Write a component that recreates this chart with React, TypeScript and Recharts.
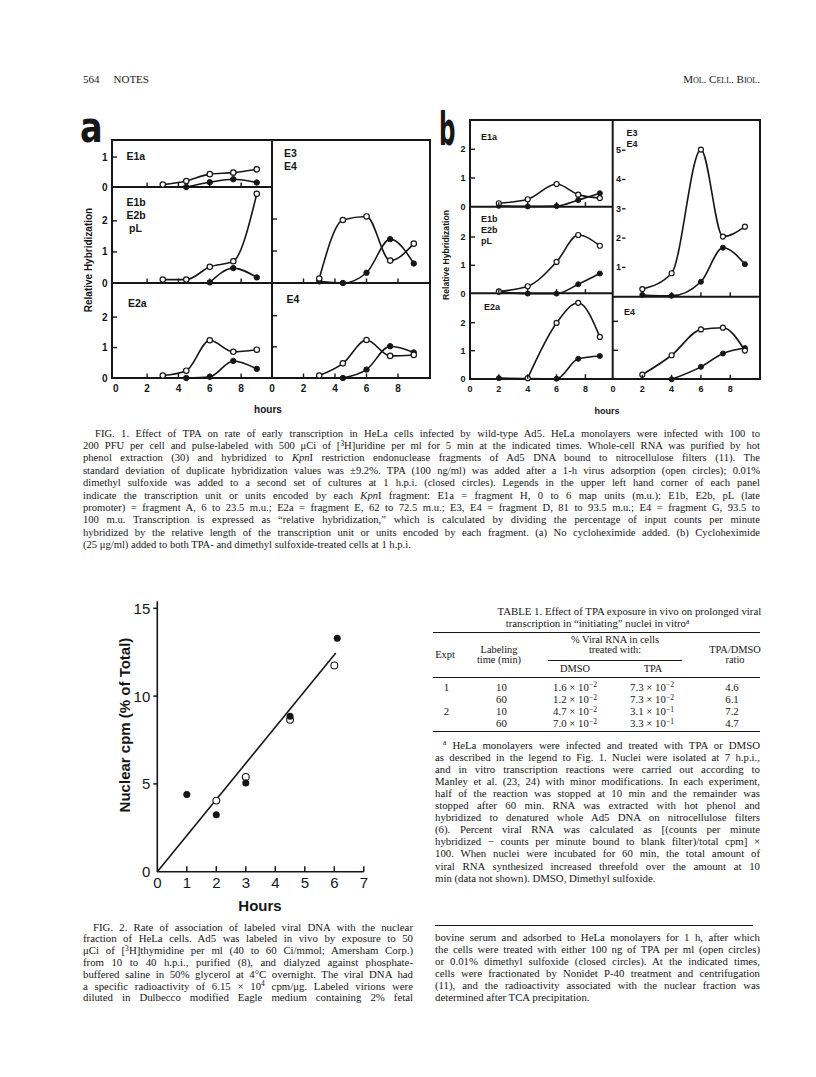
import type { ReactNode } from 'react'
import { ComposedChart, Line, LineChart, Scatter, XAxis, YAxis } from 'recharts'

const SERIF = '"Liberation Serif", "Times New Roman", serif'
const SANS = '"Liberation Sans", Arial, sans-serif'
const INK = '#161616'

// Fig. 1a, no cycloheximide. hours post infection; null = no point drawn
const A_HOURS = [3, 4.5, 6, 7.5, 9]
const A_E1A_TPA = [0.08, 0.2, 0.43, 0.48, 0.59]
const A_E1A_DMSO = [null, 0, 0.16, 0.26, 0.15]
const A_E1B_TPA = [0.11, 0.11, 0.52, 0.7, 2.87]
const A_E1B_DMSO = [null, null, 0.02, 0.48, 0.18]
const A_E2A_TPA = [0.08, 0.24, 1.24, 0.86, 0.93]
const A_E2A_DMSO = [null, 0, 0.04, 0.56, 0.3]
const A_E3E4_TPA = [0.14, 1.97, 2.08, 0.7, 1.23]
const A_E3E4_DMSO = [0.05, 0, 0.32, 1.37, 0.61]
const A_E4_TPA = [0.08, 0.47, 1.22, 0.71, 0.74]
const A_E4_DMSO = [null, 0, 0.27, 1.02, 0.82]

// Fig. 1b, cycloheximide added
const B_HOURS = [2, 4, 6, 7.5, 9]
const B_E1A_TPA = [0.12, 0.26, 0.79, 0.42, 0.3]
const B_E1A_DMSO = [0.03, 0.01, 0.02, 0.23, 0.47]
const B_E1B_TPA = [0.08, 0.26, 1.12, 2.07, 1.69]
const B_E1B_DMSO = [0.06, 0, 0, 0.33, 0.71]
const B_E2A_TPA = [null, 0.02, 1.99, 2.71, 1.49]
const B_E2A_DMSO = [0.02, null, 0, 0.71, 0.81]
const B_E3E4_TPA = [0.26, 0.8, 5.02, 2.05, 2.39]
const B_E3E4_DMSO = [0.06, 0.03, 0.51, 1.67, 1.11]
const B_E4_TPA = [0.16, 0.83, 1.72, 1.78, 0.99]
const B_E4_DMSO = [null, 0, 0.43, 0.89, 1.08]

const HOUR_TICKS = [0, 2, 4, 6, 8]

// Fig. 2, nuclear cpm (% of total) against hours
const F2_TPA_HOURS = [2, 3, 4.5, 6]
const F2_TPA = [4.05, 5.4, 8.65, 11.75]
const F2_DMSO_HOURS = [1, 2, 3, 4.5, 6.1]
const F2_DMSO = [4.4, 3.25, 5.05, 8.85, 13.3]
const F2_FIT_HOURS = [0, 6.05]
const F2_FIT = [0, 12.45]
const F2_X_TICKS = [0, 1, 2, 3, 4, 5, 6, 7]
const F2_Y_TICKS = [0, 5, 10, 15]

// Table 1
const TBL_EXPT = ['1', '', '2', '']
const TBL_TIME = ['10', '60', '10', '60']
const TBL_DMSO = ['1.6', '1.2', '4.7', '7.0']
const TBL_DMSO_EXP = ['−2', '−2', '−2', '−2']
const TBL_TPA = ['7.3', '7.3', '3.1', '3.3']
const TBL_TPA_EXP = ['−2', '−2', '−1', '−1']
const TBL_RATIO = ['4.6', '6.1', '7.2', '4.7']

type Num = number | null
type Pt = { x: number; y: number }

function toPoints(xs: number[], ys: Num[]): Pt[] {
  const out: Pt[] = []
  xs.forEach((x, i) => {
    const y = ys[i]
    if (y != null) out.push({ x, y })
  })
  return out
}

type CellProps = {
  left: number
  top: number
  width: number
  height: number
  xDomain: [number, number]
  yMax: number
  hours: number[]
  tpa: Num[]
  dmso: Num[]
  yTicks: number[]
  yMode: 'out' | 'in' | 'none'
  xLabels: boolean
  fontSize: number
  r: number
}

const PAD = 30

function Cell(c: CellProps) {
  const xTick = (p: any) => {
    const v = p.payload.value
    return (
      <g>
        {v > 0 ? (
          <line x1={p.x} x2={p.x} y1={p.y} y2={p.y - 4.5} stroke={INK} strokeWidth={1.4} />
        ) : null}
        {c.xLabels ? (
          <text x={p.x} y={p.y + 10} textAnchor="middle" dominantBaseline="central"
            fontSize={c.fontSize} fontWeight="bold" fontFamily={SANS} fill={INK}>
            {v}
          </text>
        ) : null}
      </g>
    )
  }
  const yTick = (p: any) => {
    const v = p.payload.value
    if (c.yMode === 'in') {
      return (
        <g>
          <text x={p.x + 3} y={p.y} textAnchor="start" dominantBaseline="central"
            fontSize={c.fontSize} fontWeight="bold" fontFamily={SANS} fill={INK}>
            {v}
          </text>
          <line x1={p.x + 9} x2={p.x + 12.5} y1={p.y} y2={p.y} stroke={INK} strokeWidth={1.3} />
        </g>
      )
    }
    return (
      <g>
        {v > 0 ? (
          <line x1={p.x} x2={p.x + 5} y1={p.y} y2={p.y} stroke={INK} strokeWidth={1.4} />
        ) : null}
        {c.yMode === 'out' ? (
          <text x={p.x - 4.5} y={p.y} textAnchor="end" dominantBaseline="central"
            fontSize={c.fontSize} fontWeight="bold" fontFamily={SANS} fill={INK}>
            {v}
          </text>
        ) : null}
      </g>
    )
  }
  return (
    <div style={{ position: 'absolute', left: c.left - PAD, top: c.top - PAD }}>
      <LineChart
        width={c.width + 2 * PAD}
        height={c.height + 2 * PAD}
        margin={{ top: PAD, right: PAD, bottom: PAD - 1, left: PAD - 1 }}
      >
        <XAxis type="number" dataKey="x" domain={c.xDomain} ticks={HOUR_TICKS} interval={0}
          height={1} axisLine={false} tickLine={false} tickSize={0} tickMargin={0} tick={xTick} />
        <YAxis type="number" dataKey="y" domain={[0, c.yMax]} ticks={c.yTicks} interval={0}
          width={1} axisLine={false} tickLine={false} tickSize={0} tickMargin={0} tick={yTick} />
        <Line data={toPoints(c.hours, c.dmso)} dataKey="y" type="monotone" stroke={INK}
          strokeWidth={1.6} connectNulls isAnimationActive={false} activeDot={false}
          dot={{ r: c.r, fill: INK, stroke: INK, strokeWidth: 1 }} />
        <Line data={toPoints(c.hours, c.tpa)} dataKey="y" type="monotone" stroke={INK}
          strokeWidth={1.6} connectNulls isAnimationActive={false} activeDot={false}
          dot={{ r: c.r, fill: '#fff', stroke: INK, strokeWidth: 1.2 }} />
      </LineChart>
    </div>
  )
}

function Fig2() {
  const xTick = (p: any) => {
    const v = p.payload.value
    return (
      <g>
        {v > 0 ? <line x1={p.x} x2={p.x} y1={p.y} y2={p.y - 5.5} stroke={INK} strokeWidth={1.5} /> : null}
        <text x={p.x} y={p.y + 11} textAnchor="middle" dominantBaseline="central"
          fontSize={15} fontFamily={SANS} fill={INK}>
          {v}
        </text>
      </g>
    )
  }
  const yTick = (p: any) => {
    const v = p.payload.value
    return (
      <g>
        {v > 0 ? <line x1={p.x - 4} x2={p.x} y1={p.y} y2={p.y} stroke={INK} strokeWidth={1.5} /> : null}
        <text x={p.x - 7} y={p.y} textAnchor="end" dominantBaseline="central"
          fontSize={15} fontFamily={SANS} fill={INK}>
          {v}
        </text>
      </g>
    )
  }
  const openDot = (p: any) => (
    <circle cx={p.cx} cy={p.cy} r={3.4} fill="#fff" stroke={INK} strokeWidth={1.1} />
  )
  const closedDot = (p: any) => <circle cx={p.cx} cy={p.cy} r={3.5} fill={INK} />
  return (
    <div style={{ position: 'absolute', left: 100, top: 580 }}>
      <ComposedChart width={280} height={310} margin={{ top: 21.3, right: 16.2, bottom: 17.3, left: 56.3 }}>
        <XAxis type="number" dataKey="x" domain={[0, 7]} ticks={F2_X_TICKS} interval={0} height={1}
          axisLine={{ stroke: INK, strokeWidth: 1.6 }} tickLine={false} tickSize={0} tickMargin={0} tick={xTick} />
        <YAxis type="number" dataKey="y" domain={[0, 15.4]} ticks={F2_Y_TICKS} interval={0} width={1}
          axisLine={{ stroke: INK, strokeWidth: 1.6 }} tickLine={false} tickSize={0} tickMargin={0} tick={yTick} />
        <Line data={toPoints(F2_FIT_HOURS, F2_FIT)} dataKey="y" type="linear" stroke={INK}
          strokeWidth={1.6} dot={false} activeDot={false} isAnimationActive={false} />
        <Scatter data={toPoints(F2_TPA_HOURS, F2_TPA)} shape={openDot} isAnimationActive={false} />
        <Scatter data={toPoints(F2_DMSO_HOURS, F2_DMSO)} shape={closedDot} isAnimationActive={false} />
      </ComposedChart>
    </div>
  )
}

function TextLine({ left, y, width, children, justify = true, size = 10.8, indent = 0, lh = 13 }: {
  left: number; y: number; width: number; children: ReactNode; justify?: boolean; size?: number; indent?: number; lh?: number
}) {
  return (
    <div style={{
      position: 'absolute', left, top: y - lh / 2, width, height: lh, lineHeight: `${lh}px`,
      fontSize: size, fontFamily: SERIF, color: INK, whiteSpace: 'nowrap',
      textAlign: 'justify', textAlignLast: justify ? 'justify' : 'left', textIndent: indent,
    }}>
      {children}
    </div>
  )
}

function Centered({ x, y, children, size = 10.8, bold = false }: { x: number; y: number; children: ReactNode; size?: number; bold?: boolean }) {
  return (
    <div style={{
      position: 'absolute', left: x - 100, width: 200, top: y - 7, lineHeight: '14px', textAlign: 'center',
      fontSize: size, fontFamily: SERIF, fontWeight: bold ? 'bold' : 'normal', color: INK, whiteSpace: 'nowrap',
    }}>
      {children}
    </div>
  )
}

function Rule({ x1, x2, y, w = 1.2 }: { x1: number; x2: number; y: number; w?: number }) {
  return <div style={{ position: 'absolute', left: x1, width: x2 - x1, top: y - w / 2, height: w, background: INK }} />
}

const sup = (s: string) => <span style={{ fontSize: '0.7em', position: 'relative', top: '-0.45em' }}>{s}</span>

const FIG1_CAPTION: ReactNode[] = [
  <>FIG. 1. Effect of TPA on rate of early transcription in HeLa cells infected by wild-type Ad5. HeLa monolayers were infected with 100 to</>,
  <>200 PFU per cell and pulse-labeled with 500 μCi of [{sup('3')}H]uridine per ml for 5 min at the indicated times. Whole-cell RNA was purified by hot</>,
  <>phenol extraction (30) and hybridized to <i>Kpn</i>I restriction endonuclease fragments of Ad5 DNA bound to nitrocellulose filters (11). The</>,
  <>standard deviation of duplicate hybridization values was ±9.2%. TPA (100 ng/ml) was added after a 1-h virus adsorption (open circles); 0.01%</>,
  <>dimethyl sulfoxide was added to a second set of cultures at 1 h.p.i. (closed circles). Legends in the upper left hand corner of each panel</>,
  <>indicate the transcription unit or units encoded by each <i>Kpn</i>I fragment: E1a = fragment H, 0 to 6 map units (m.u.); E1b, E2b, pL (late</>,
  <>promoter) = fragment A, 6 to 23.5 m.u.; E2a = fragment E, 62 to 72.5 m.u.; E3, E4 = fragment D, 81 to 93.5 m.u.; E4 = fragment G, 93.5 to</>,
  <>100 m.u. Transcription is expressed as “relative hybridization,” which is calculated by dividing the percentage of input counts per minute</>,
  <>hybridized by the relative length of the transcription unit or units encoded by each fragment. (a) No cycloheximide added. (b) Cycloheximide</>,
  <>(25 μg/ml) added to both TPA- and dimethyl sulfoxide-treated cells at 1 h.p.i.</>,
]

const FIG2_CAPTION: ReactNode[] = [
  <>FIG. 2. Rate of association of labeled viral DNA with the nuclear</>,
  <>fraction of HeLa cells. Ad5 was labeled in vivo by exposure to 50</>,
  <>μCi of [{sup('3')}H]thymidine per ml (40 to 60 Ci/mmol; Amersham Corp.)</>,
  <>from 10 to 40 h.p.i., purified (8), and dialyzed against phosphate-</>,
  <>buffered saline in 50% glycerol at 4°C overnight. The viral DNA had</>,
  <>a specific radioactivity of 6.15 × 10{sup('4')} cpm/μg. Labeled virions were</>,
  <>diluted in Dulbecco modified Eagle medium containing 2% fetal</>,
]

const TABLE_NOTE: ReactNode[] = [
  <>{sup('a')} HeLa monolayers were infected and treated with TPA or DMSO</>,
  <>as described in the legend to Fig. 1. Nuclei were isolated at 7 h.p.i.,</>,
  <>and in vitro transcription reactions were carried out according to</>,
  <>Manley et al. (23, 24) with minor modifications. In each experiment,</>,
  <>half of the reaction was stopped at 10 min and the remainder was</>,
  <>stopped after 60 min. RNA was extracted with hot phenol and</>,
  <>hybridized to denatured whole Ad5 DNA on nitrocellulose filters</>,
  <>(6). Percent viral RNA was calculated as [(counts per minute</>,
  <>hybridized − counts per minute bound to blank filter)/total cpm] ×</>,
  <>100. When nuclei were incubated for 60 min, the total amount of</>,
  <>viral RNA synthesized increased threefold over the amount at 10</>,
  <>min (data not shown). DMSO, Dimethyl sulfoxide.</>,
]

const RIGHT_TAIL: ReactNode[] = [
  <>bovine serum and adsorbed to HeLa monolayers for 1 h, after which</>,
  <>the cells were treated with either 100 ng of TPA per ml (open circles)</>,
  <>or 0.01% dimethyl sulfoxide (closed circles). At the indicated times,</>,
  <>cells were fractionated by Nonidet P-40 treatment and centrifugation</>,
  <>(11), and the radioactivity associated with the nuclear fraction was</>,
  <>determined after TCA precipitation.</>,
]

function FrameAndLabels() {
  const lab = (x: number, y: number, s: string, fs: number) => (
    <text key={`${s}-${x}-${y}`} x={x} y={y} fontSize={fs} fontWeight="bold" fontFamily={SANS}
      dominantBaseline="central" fill={INK}>{s}</text>
  )
  const ln = (x1: number, y1: number, x2: number, y2: number, w = 2) => (
    <line key={`${x1}-${y1}-${x2}-${y2}`} x1={x1} y1={y1} x2={x2} y2={y2} stroke={INK} strokeWidth={w} />
  )
  return (
    <svg width={816} height={1077} style={{ position: 'absolute', left: 0, top: 0 }}>
      {/* panel a frame */}
      <rect x={112} y={140} width={318} height={238} fill="none" stroke={INK} strokeWidth={2} />
      {ln(272, 140, 272, 378)}
      {ln(112, 187, 272, 187)}
      {ln(112, 283, 430, 283)}
      {/* panel b frame */}
      <rect x={470} y={120} width={290} height={259} fill="none" stroke={INK} strokeWidth={2} />
      {ln(612.7, 120, 612.7, 379)}
      {ln(470, 206.7, 612.7, 206.7)}
      {ln(470, 293.3, 612.7, 293.3)}
      {ln(612.7, 296.7, 760, 296.7)}

      <text x={80} y={142} fontSize={42} fontWeight="bold" fontFamily='"DejaVu Sans", sans-serif'
        transform="translate(80 0) scale(0.8 1) translate(-80 0)" fill={INK}>a</text>
      <text x={439} y={145} fontSize={46} fontWeight="bold" fontFamily='"DejaVu Sans", sans-serif'
        transform="translate(439 0) scale(0.5 1) translate(-439 0)" fill={INK}>b</text>

      {lab(126.5, 156, 'E1a', 10.5)}
      {lab(126.5, 202, 'E1b', 10.5)}
      {lab(126.5, 215, 'E2b', 10.5)}
      {lab(129, 227.5, 'pL', 10.5)}
      {lab(128, 303, 'E2a', 10.5)}
      {lab(284, 153, 'E3', 10.5)}
      {lab(284, 166, 'E4', 10.5)}
      {lab(286.5, 299, 'E4', 10.5)}

      {lab(481, 137, 'E1a', 9)}
      {lab(481, 219, 'E1b', 9)}
      {lab(481, 230, 'E2b', 9)}
      {lab(481, 241, 'pL', 9)}
      {lab(484, 307, 'E2a', 9)}
      {lab(626.5, 133, 'E3', 9)}
      {lab(626.5, 144, 'E4', 9)}
      {lab(624, 312, 'E4', 9)}

      <text x={88} y={260} fontSize={10} fontWeight="bold" fontFamily={SANS} textAnchor="middle"
        dominantBaseline="central" transform="rotate(-90 88 260)" fill={INK}>Relative Hybridization</text>
      <text x={446} y={255} fontSize={8.6} fontWeight="bold" fontFamily={SANS} textAnchor="middle"
        dominantBaseline="central" transform="rotate(-90 446 255)" fill={INK}>Relative Hybridization</text>
      <text x={268} y={409} fontSize={10} fontWeight="bold" fontFamily={SANS} textAnchor="middle"
        dominantBaseline="central" fill={INK}>hours</text>
      <text x={607} y={411} fontSize={9} fontWeight="bold" fontFamily={SANS} textAnchor="middle"
        dominantBaseline="central" fill={INK}>hours</text>

      <text x={260} y={905} fontSize={15} fontWeight="bold" fontFamily={SANS} textAnchor="middle"
        dominantBaseline="central" fill={INK}>Hours</text>
      <text x={124} y={725} fontSize={15} fontWeight="bold" fontFamily={SANS} textAnchor="middle"
        dominantBaseline="central" transform="rotate(-90 124 725)" fill={INK}>Nuclear cpm (% of Total)</text>
    </svg>
  )
}

export default function App() {
  const aLeft = { left: 112, width: 160, xDomain: [-0.24, 9.97] as [number, number] }
  const aRight = { left: 272, width: 158, xDomain: [0, 10.03] as [number, number] }
  const bLeft = { left: 470, width: 142.7, xDomain: [0, 9.89] as [number, number] }
  const bRight = { left: 612.7, width: 147.3, xDomain: [0, 10.05] as [number, number] }

  return (
    <div style={{ position: 'absolute', left: 0, top: 0, width: 816, height: 1077, background: '#fff', overflow: 'hidden' }}>
      <FrameAndLabels />

      <Cell {...aLeft} top={140} height={47} yMax={1.57} hours={A_HOURS} tpa={A_E1A_TPA} dmso={A_E1A_DMSO}
        yTicks={[0, 1]} yMode="out" xLabels={false} fontSize={10} r={2.7} />
      <Cell {...aLeft} top={187} height={96} yMax={3.09} hours={A_HOURS} tpa={A_E1B_TPA} dmso={A_E1B_DMSO}
        yTicks={[0, 1, 2]} yMode="out" xLabels={false} fontSize={10} r={2.7} />
      <Cell {...aLeft} top={283} height={95} yMax={3.12} hours={A_HOURS} tpa={A_E2A_TPA} dmso={A_E2A_DMSO}
        yTicks={[0, 1, 2]} yMode="out" xLabels fontSize={10} r={2.7} />
      <Cell {...aRight} top={140} height={143} yMax={4.47} hours={A_HOURS} tpa={A_E3E4_TPA} dmso={A_E3E4_DMSO}
        yTicks={[1, 2]} yMode="none" xLabels={false} fontSize={10} r={2.7} />
      <Cell {...aRight} top={283} height={95} yMax={3.05} hours={A_HOURS} tpa={A_E4_TPA} dmso={A_E4_DMSO}
        yTicks={[1, 2]} yMode="none" xLabels fontSize={10} r={2.7} />

      <Cell {...bLeft} top={120} height={86.7} yMax={3.02} hours={B_HOURS} tpa={B_E1A_TPA} dmso={B_E1A_DMSO}
        yTicks={[0, 1, 2]} yMode="out" xLabels={false} fontSize={9} r={2.5} />
      <Cell {...bLeft} top={206.7} height={86.6} yMax={3.06} hours={B_HOURS} tpa={B_E1B_TPA} dmso={B_E1B_DMSO}
        yTicks={[0, 1, 2]} yMode="out" xLabels={false} fontSize={9} r={2.5} />
      <Cell {...bLeft} top={293.3} height={85.7} yMax={3.06} hours={B_HOURS} tpa={B_E2A_TPA} dmso={B_E2A_DMSO}
        yTicks={[0, 1, 2]} yMode="out" xLabels fontSize={9} r={2.5} />
      <Cell {...bRight} top={120} height={176.7} yMax={6.03} hours={B_HOURS} tpa={B_E3E4_TPA} dmso={B_E3E4_DMSO}
        yTicks={[1, 2, 3, 4, 5]} yMode="in" xLabels={false} fontSize={9} r={2.5} />
      <Cell {...bRight} top={296.7} height={82.3} yMax={2.84} hours={B_HOURS} tpa={B_E4_TPA} dmso={B_E4_DMSO}
        yTicks={[1, 2]} yMode="none" xLabels fontSize={9} r={2.5} />

      <Fig2 />

      {/* running head */}
      <div style={{ position: 'absolute', left: 83, top: 73, fontFamily: SERIF, fontSize: 11, color: INK, whiteSpace: 'nowrap' }}>
        564<span style={{ marginLeft: 14 }}>NOTES</span>
      </div>
      <div style={{ position: 'absolute', left: 560, width: 200, top: 73, textAlign: 'right', fontFamily: SERIF, fontSize: 11, color: INK, fontVariant: 'small-caps' }}>
        Mol. Cell. Biol.
      </div>

      {FIG1_CAPTION.map((t, i) => (
        <TextLine key={`c1-${i}`} left={83} y={433 + i * 12.4} width={677} indent={i === 0 ? 12 : 0}
          justify={i < FIG1_CAPTION.length - 1} size={10.6}>{t}</TextLine>
      ))}

      {FIG2_CAPTION.map((t, i) => (
        <TextLine key={`c2-${i}`} left={83} y={927 + i * 11.8} width={330} indent={i === 0 ? 10 : 0}>{t}</TextLine>
      ))}

      {/* Table 1 */}
      <Centered x={597.5} y={611}>TABLE 1. Effect of TPA exposure in vivo on prolonged viral</Centered>
      <Centered x={597.5} y={623.3}>transcription in “initiating” nuclei in vitro{sup('a')}</Centered>
      <Rule x1={433} x2={760} y={632.7} w={1.6} />
      <Centered x={615} y={639.5} size={10.4}>% Viral RNA in cells</Centered>
      <Centered x={615} y={650} size={10.4}>treated with:</Centered>
      <Centered x={445} y={655} size={10.4}>Expt</Centered>
      <Centered x={499} y={649.5} size={10.4}>Labeling</Centered>
      <Centered x={499} y={660} size={10.4}>time (min)</Centered>
      <Centered x={735} y={649.5} size={10.4}>TPA/DMSO</Centered>
      <Centered x={735} y={660} size={10.4}>ratio</Centered>
      <Rule x1={548} x2={682} y={660.7} w={1} />
      <Centered x={575} y={668.8} size={10.4}>DMSO</Centered>
      <Centered x={653} y={668.8} size={10.4}>TPA</Centered>
      <Rule x1={433} x2={760} y={677.2} w={1} />
      {TBL_TIME.map((t, i) => {
        const y = 686.7 + i * 12.2
        return (
          <div key={`row-${i}`}>
            <Centered x={446.5} y={y}>{TBL_EXPT[i]}</Centered>
            <Centered x={501.5} y={y}>{t}</Centered>
            <Centered x={575} y={y}>{TBL_DMSO[i]} × 10{sup(TBL_DMSO_EXP[i])}</Centered>
            <Centered x={652} y={y}>{TBL_TPA[i]} × 10{sup(TBL_TPA_EXP[i])}</Centered>
            <Centered x={732} y={y}>{TBL_RATIO[i]}</Centered>
          </div>
        )
      })}
      <Rule x1={433} x2={760} y={731.7} w={1.6} />

      {TABLE_NOTE.map((t, i) => (
        <TextLine key={`n-${i}`} left={435} y={745 + i * 12.1} width={325} indent={i === 0 ? 8 : 0}
          justify={i < TABLE_NOTE.length - 1}>{t}</TextLine>
      ))}

      <Rule x1={435} x2={753} y={925.7} w={1.3} />
      {RIGHT_TAIL.map((t, i) => (
        <TextLine key={`r-${i}`} left={435} y={937 + i * 12.1} width={325}
          justify={i < RIGHT_TAIL.length - 1}>{t}</TextLine>
      ))}
    </div>
  )
}
